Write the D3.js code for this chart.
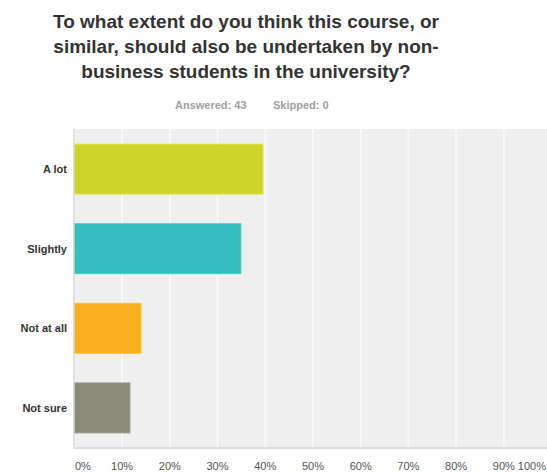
<!DOCTYPE html>
<html>
<head>
<meta charset="utf-8">
<script src="https://cdn.jsdelivr.net/npm/d3@7"></script>
<style>
  html, body { margin: 0; padding: 0; background: #fff; }
  svg { display: block; }
  text { font-family: Arial, "Liberation Sans", sans-serif; }
</style>
</head>
<body>
<svg id="chart" width="547" height="472"></svg>
<script>
const titleLines = ["To what extent do you think this course, or", "similar, should also be undertaken by non-", "business students in the university?"];
const answeredText = "Answered: 43";
const skippedText = "Skipped: 0";
const categories = ["A lot", "Slightly", "Not at all", "Not sure"];
const values = [39.53, 34.88, 13.95, 11.63];
const colors = ["#cfd42a", "#34bdbf", "#f7af1f", "#898a78"];
const ticks = [0, 10, 20, 30, 40, 50, 60, 70, 80, 90, 100];

(function () {
const svg = d3.select("#chart");
const W = 547, H = 472;
const pLeft = 74.4, pRight = 551.5, pTop = 129, pBottom = 448;

const x = d3.scaleLinear().domain([0, 100]).range([pLeft, pRight]);
const y = d3.scaleBand().domain(categories).range([pTop, pBottom]).paddingInner(0.373).paddingOuter(0.19);

// title
const t = svg.append("text").attr("text-anchor", "middle")
  .attr("font-size", 19).attr("font-weight", "bold").attr("fill", "#333");
titleLines.forEach((l, i) => t.append("tspan").attr("x", 246).attr("y", 28 + i * 25).text(l));

const sub = svg.append("text").attr("y", 109).attr("font-size", 11).attr("font-weight", "bold").attr("fill", "#a0a0a0");
sub.append("tspan").attr("x", 175).text(answeredText);
sub.append("tspan").attr("x", 273).text(skippedText);

// plot background
svg.append("rect").attr("x", pLeft).attr("y", pTop).attr("width", W - pLeft).attr("height", pBottom - pTop).attr("fill", "#efefef");

// grid lines
svg.append("g").selectAll("line").data(ticks.slice(1)).join("line")
  .attr("x1", d => x(d)).attr("x2", d => x(d)).attr("y1", pTop).attr("y2", pBottom)
  .attr("stroke", "#fafafa").attr("stroke-width", 1.5);

// bars
svg.append("g").selectAll("rect").data(categories).join("rect")
  .attr("x", x(0)).attr("y", d => y(d))
  .attr("width", (d, i) => x(values[i]) - x(0))
  .attr("height", y.bandwidth())
  .attr("fill", (d, i) => colors[i])
  .attr("stroke", (d, i) => d3.color(colors[i]).brighter(0.25))
  .attr("stroke-width", 1);

// axes lines
svg.append("line").attr("x1", pLeft - 0.5).attr("x2", pLeft - 0.5).attr("y1", pTop).attr("y2", pBottom)
  .attr("stroke", "#d8d8d8").attr("stroke-width", 1.5);
svg.append("line").attr("x1", pLeft - 1).attr("x2", W).attr("y1", pBottom).attr("y2", pBottom)
  .attr("stroke", "#dcdcdc").attr("stroke-width", 2);

// category labels
svg.append("g").selectAll("text").data(categories).join("text")
  .attr("x", 67).attr("y", d => y(d) + y.bandwidth() / 2 + 4)
  .attr("text-anchor", "end").attr("font-size", 11).attr("font-weight", "bold").attr("fill", "#333")
  .text(d => d);

// x tick labels
svg.append("g").selectAll("text").data(ticks).join("text")
  .attr("x", d => d === 0 ? x(0) + 0.5 : d === 100 ? 546 : x(d))
  .attr("y", 470)
  .attr("text-anchor", d => d === 0 ? "start" : d === 100 ? "end" : "middle")
  .attr("font-size", 11).attr("fill", "#555")
  .text(d => d + "%");
})();
</script>
</body>
</html>
